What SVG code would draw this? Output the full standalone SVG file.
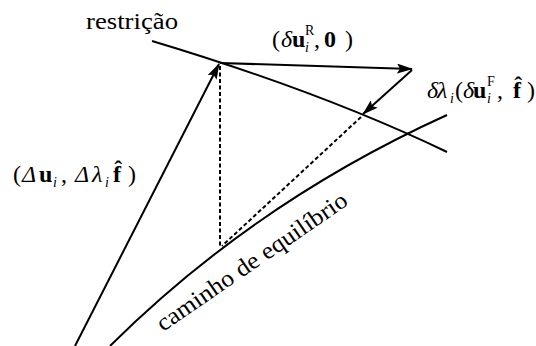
<svg xmlns="http://www.w3.org/2000/svg" width="536" height="346" viewBox="0 0 536 346">
<style>
.ln{fill:none;stroke:#000;stroke-width:2}
.ds{fill:none;stroke:#000;stroke-width:2;stroke-dasharray:4,2.5}
.t{font-family:"Liberation Serif","Times New Roman","DejaVu Serif",serif;font-size:24px;fill:#000}
.it{font-style:italic}
.bf{font-weight:bold}
.sm{font-size:14px}
</style>
<defs>
<marker id="ah" viewBox="0 0 16 10" refX="15" refY="5" markerWidth="16" markerHeight="10" orient="auto" markerUnits="userSpaceOnUse">
<path d="M0,0 L16,5 L0,10 L3,5 z" fill="#000"/>
</marker>
</defs>
<g id="connectors">
<path id="restricao-line" class="ln" d="M152,41 Q322,92 447,152"/>
<path id="equilibrio-curve" class="ln" d="M110,346 Q255,202 447,115"/>
<path class="ln" d="M75,346 L219,64" marker-end="url(#ah)"/>
<path class="ln" d="M220,63 L412,69" marker-end="url(#ah)"/>
<path class="ln" d="M412,70 L363,114" marker-end="url(#ah)"/>
<path class="ds" d="M220,66 L220,246"/>
<path class="ds" d="M361,117 L222,246"/>
</g>
<g id="label-restricao">
<text class="t" x="86" y="29" textLength="92" lengthAdjust="spacingAndGlyphs">restrição</text>
</g>
<g id="label-equilibrio">
<text class="t" transform="translate(163,332) rotate(-34.5)" textLength="226" lengthAdjust="spacingAndGlyphs">caminho de equilíbrio</text>
</g>
<g id="label-top">
<text class="t" x="272" y="47">(</text>
<text class="t it" x="281" y="47">δ</text>
<text class="t bf" x="292" y="47">u</text>
<text class="t sm" x="305" y="35">R</text>
<text class="t sm it" x="305" y="52">i</text>
<text class="t" x="314" y="47">,</text>
<text class="t bf" x="324" y="47">0</text>
<text class="t" x="345" y="47">)</text>
</g>
<g id="label-right">
<text class="t it" x="427" y="98">δ</text>
<text class="t it" x="437" y="98">λ</text>
<text class="t sm it" x="450" y="103">i</text>
<text class="t" x="455" y="98">(</text>
<text class="t it" x="463" y="98">δ</text>
<text class="t bf" x="473" y="98">u</text>
<text class="t sm" x="487" y="86">F</text>
<text class="t sm it" x="487" y="103">i</text>
<text class="t" x="497" y="98">,</text>
<text class="t bf" x="513" y="98">f̂</text>
<text class="t" x="527" y="98">)</text>
</g>
<g id="label-left">
<text class="t" x="13" y="182">(</text>
<text class="t it" x="22" y="182">Δ</text>
<text class="t bf" x="39" y="182">u</text>
<text class="t sm it" x="53" y="187">i</text>
<text class="t" x="61" y="182">,</text>
<text class="t it" x="75" y="182">Δ</text>
<text class="t it" x="92" y="182">λ</text>
<text class="t sm it" x="105" y="187">i</text>
<text class="t bf" x="113" y="182">f̂</text>
<text class="t" x="128" y="182">)</text>
</g>
</svg>
